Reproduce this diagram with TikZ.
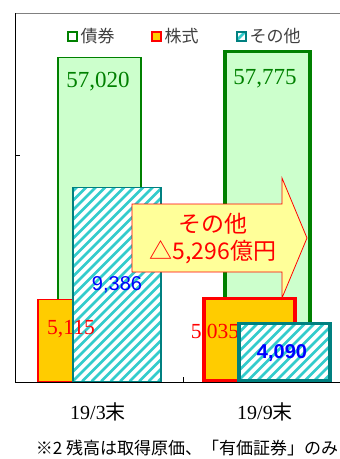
\documentclass[tikz,border=0pt]{standalone}
\usepackage{fontspec}
\setmainfont{Liberation Serif}
\newfontfamily\jp{Noto Sans CJK JP}
\newfontfamily\arial{Liberation Sans}
\usetikzlibrary{positioning,calc}
\definecolor{bondgreen}{HTML}{008000}
\definecolor{bondfill}{HTML}{CCFFCC}
\definecolor{stockyel}{HTML}{FFCC00}
\definecolor{otherteal}{HTML}{008080}
\definecolor{othercyan}{HTML}{33CCCC}
\definecolor{calloutfill}{HTML}{FFFF99}
\tikzset{hatch/.style={path picture={
  \foreach \k in {-25,...,12}
    \draw[othercyan, line width=2.8pt] ($(path picture bounding box.south west)+(\k*9.5pt,0pt)$) -- ++(300pt,300pt);
}}}
\tikzstyle{barbox}=[draw, inner sep=0pt, anchor=south west, line width=1.5pt]
\tikzstyle{bond}=[barbox, draw=bondgreen, fill=bondfill]
\tikzstyle{stock}=[barbox, draw=red, fill=stockyel]
\tikzstyle{other}=[barbox, draw=otherteal, fill=white, hatch]
\tikzstyle{legbox}=[draw, inner sep=0pt, minimum size=9pt, line width=2pt]
\tikzstyle{legtxt}=[right=2pt, inner sep=0pt, text=black!75, font=\jp\fontsize{17}{17}\selectfont]
\tikzstyle{bondnum}=[text=bondgreen, font=\fontsize{23}{23}\selectfont]
\tikzstyle{stocknum}=[text=red, font=\fontsize{21.5}{21.5}\selectfont]
\tikzstyle{othernum}=[text=blue, font=\arial\fontsize{20}{20}\selectfont]
\tikzstyle{catlabel}=[font=\fontsize{20}{20}\selectfont]
\tikzstyle{callout}=[draw=red, fill=calloutfill, line width=0.8pt]
\newcommand{\colbar}[4]{node (#1)[#2, minimum width=#3, minimum height=#4]{}}

\begin{document}
\begin{tikzpicture}[x=1pt,y=-1pt]
		\useasboundingbox (0,0) rectangle (340,459);
		
		% axes
		\coordinate (axT) at (15,13);
		\coordinate (axO) at (15,382);
		\coordinate (axR) at (340,382);
		\coordinate (topR) at (340,13);
		\coordinate (tickL) at (15,155);
		\coordinate (tickB) at (183,382);
		\draw[black!50, line width=1pt] (axT) -- (topR);
		\draw[line width=0.8pt] (axT) -- (axO) -- (axR);
		\draw[line width=0.8pt] (tickL) -- ++(5pt,0pt);
		\draw[line width=0.8pt] (tickB) -- ++(0pt,5pt);
		
		% legend
		\node (lg1) [legbox, draw=bondgreen, fill=white] at (72,36) {};
		\node (lt1) [legtxt, right=3pt of lg1] {債券};
		\node (lg2) [legbox, draw=red, fill=stockyel] at (156,36) {};
		\node (lt2) [legtxt, right=3pt of lg2] {株式};
		\node (lg3) [legbox, draw=otherteal, fill=white, hatch] at (241,36) {};
		\node (lt3) [legtxt, right=3pt of lg3] {その他};
		
		% 19/3
		\path (57,382) \colbar{b1}{bond}{83pt}{324pt};
		\path (37,382) \colbar{s1}{stock}{35pt}{82pt};
		\path (72,382) \colbar{o1}{other}{88pt}{194pt};
		\node (nb1) [bondnum] at (98,82) {57,020};
		\node (ns1) [stocknum] at (71,329) {5,115};
		\node (no1) [othernum] at (117,285) {9,386};
		
		% 19/9
		\path (223,382) \colbar{b2}{bond, line width=3.5pt}{85pt}{329pt};
		\path (202,382) \colbar{s2}{stock, line width=3.5pt}{91pt}{82pt};
		\node (ns2) [stocknum] at (215,333) {5,035};
		\path (237,382) \colbar{o2}{other, line width=3.5pt}{91pt}{57pt};
		\node (nb2) [bondnum] at (265,79) {57,775};
		\node (no2) [othernum, font=\arial\bfseries\fontsize{20}{20}\selectfont] at (282,353) {4,090};
		
		% change arrow
		\draw[callout] (132,204) -- (282,204) -- (282,178) -- (307,238) -- (282,298) -- (282,272) -- (132,272) -- cycle;
		\node (chg) [text=red, align=center, font=\jp\fontsize{23}{27}\selectfont] at (213,239) {その他\\△5,296億円};
		
		% categories and note
		\node (c1) [catlabel] at (98,412) {19/3{\jp 末}};
		\node (c2) [catlabel] at (265,412) {19/9{\jp 末}};
		\node (note) [font=\jp\fontsize{17}{17}\selectfont] at (187,448) {※2 残高は取得原価、「有価証券」のみ};
		
\end{tikzpicture}
\end{document}
